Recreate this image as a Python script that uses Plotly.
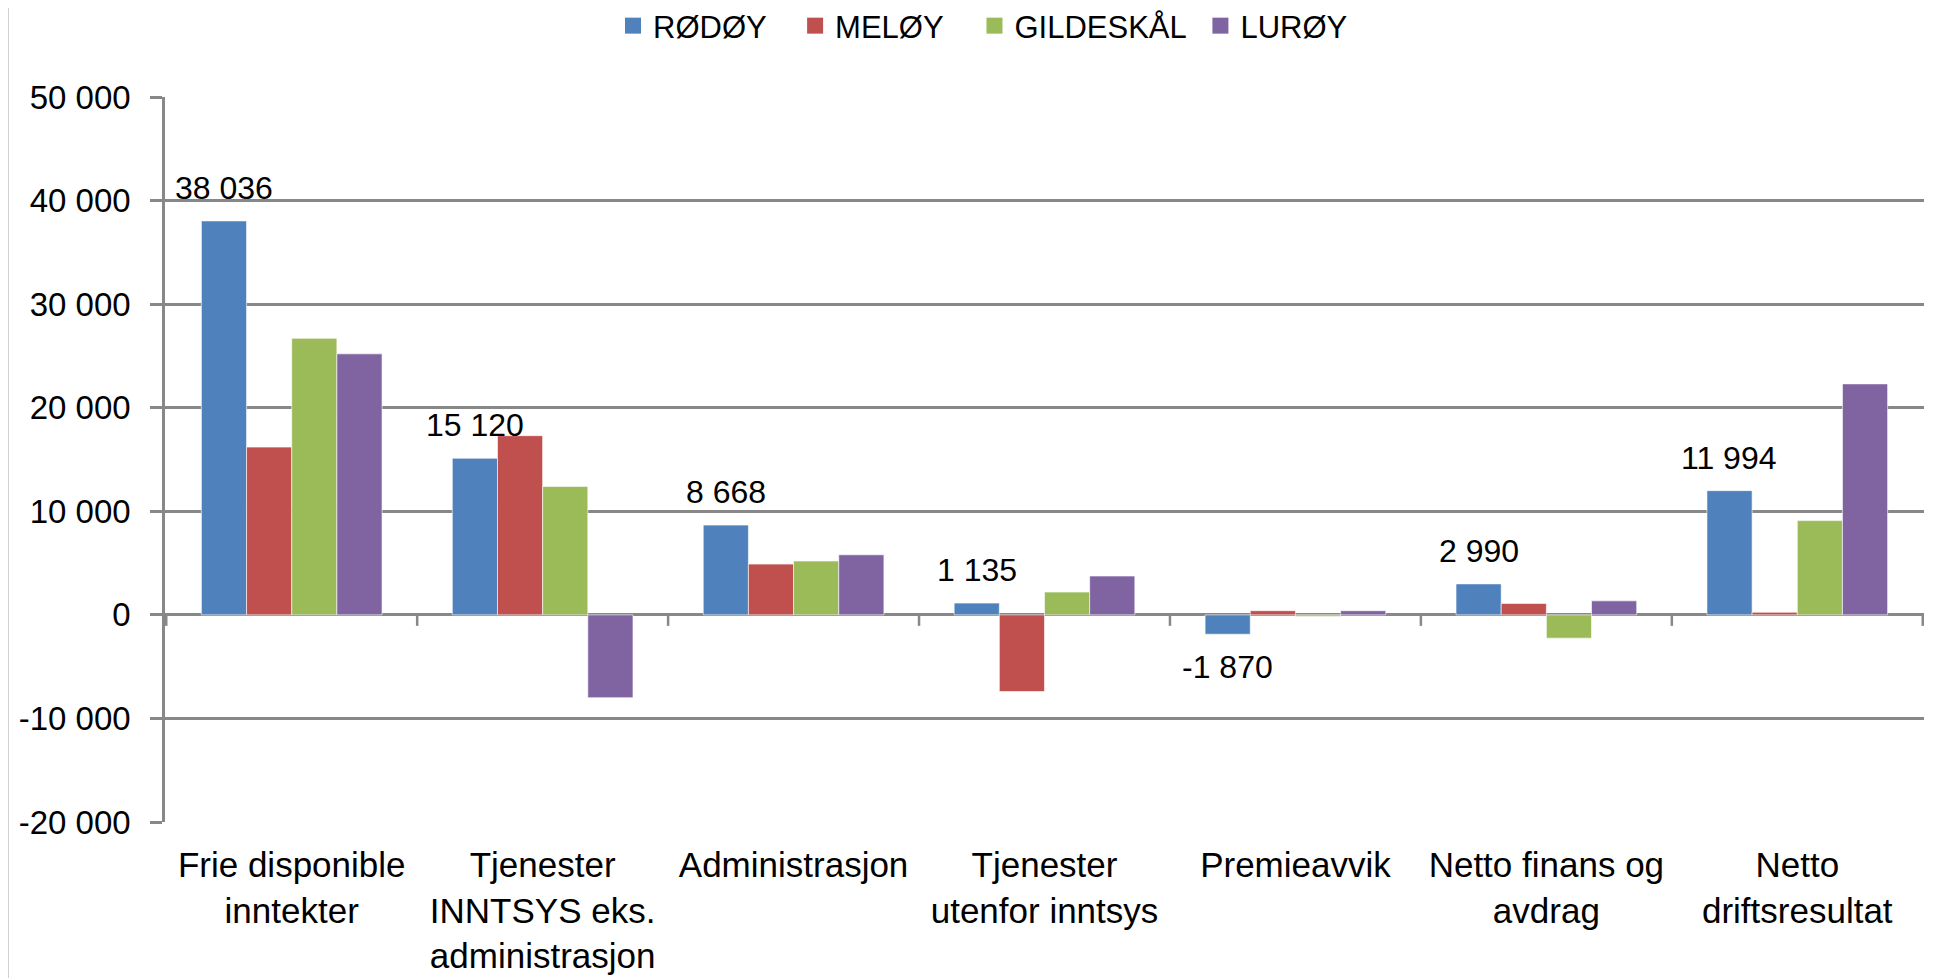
import plotly.graph_objects as go

# data
categories = ["Frie disponible<br>inntekter", "Tjenester<br>INNTSYS eks.<br>administrasjon",
              "Administrasjon", "Tjenester<br>utenfor inntsys", "Premieavvik",
              "Netto finans og<br>avdrag", "Netto<br>driftsresultat"]
rodoy = [38036, 15120, 8668, 1135, -1870, 2990, 11994]
meloy = [16200, 17300, 4900, -7400, 400, 1100, 250]
gildeskal = [26700, 12400, 5200, 2200, -150, -2250, 9100]
luroy = [25200, -8000, 5800, 3750, 400, 1350, 22300]
series_names = ["RØDØY", "MELØY", "GILDESKÅL", "LURØY"]
y_ticks = [-20000, -10000, 0, 10000, 20000, 30000, 40000, 50000]
y_tick_labels = ["-20 000", "-10 000", "0", "10 000", "20 000", "30 000", "40 000", "50 000"]

colors = ["#4F81BD", "#C0504D", "#9BBB59", "#8064A2"]
font = "Liberation Sans"
# page has an 8px body margin, so the figure is a bit smaller than the window
W, H = 1933, 970
L, R, T, B = 157, 17, 89, 156
grid = "#888888"

fig = go.Figure()
for name, vals, c in zip(series_names, [rodoy, meloy, gildeskal, luroy], colors):
    fig.add_trace(go.Bar(x=categories, y=vals, name=name, showlegend=False,
                         marker=dict(color=c, line=dict(color="rgba(255,255,255,0.6)", width=1))))
# legend entries with big square swatches (space padding for gaps between entries)
pads = ["\u00a0\u00a0\u2009", "\u00a0\u00a0\u00a0", "\u00a0", ""]
for name, c, pad in zip(series_names, colors, pads):
    fig.add_trace(go.Scatter(x=[None], y=[None], mode="markers", name=name + pad,
                             marker=dict(symbol="square", size=21, color=c)))

def fmt(v):
    return f"{v:,}".replace(",", " ")

bar_w = (W - L - R) / len(categories) * 0.72 / 4
for cat, v in zip(categories, rodoy):
    fig.add_annotation(x=cat, y=v, text=fmt(v), showarrow=False,
                       xshift=-1.5 * bar_w, yshift=33 if v >= 0 else -33,
                       font=dict(family=font, size=32, color="black"))

# category tick marks on the zero line
for i in range(len(categories) + 1):
    fig.add_shape(type="line", xref="x", yref="y", x0=i - 0.5, x1=i - 0.5,
                  ysizemode="pixel", yanchor=0, y0=0, y1=-11,
                  line=dict(color=grid, width=2.5))

# chart frame line on the left
fig.add_shape(type="line", xref="paper", yref="paper", x0=-L / (W - L - R), x1=-L / (W - L - R),
              y0=-B / (H - T - B), y1=(H - T) / (H - T - B), line=dict(color="#D0D0D0", width=2))

fig.update_layout(
    width=W, height=H,
    margin=dict(l=L, r=R, t=T, b=B, autoexpand=False),
    paper_bgcolor="white", plot_bgcolor="white",
    barmode="group", bargap=0.28, bargroupgap=0,
    font=dict(family=font, size=30, color="black"),
    legend=dict(orientation="h", xref="container", x=605 / W, xanchor="left",
                yref="container", y=1 - 18 / H, yanchor="middle",
                font=dict(size=31), itemwidth=30, traceorder="normal",
                itemsizing="trace"),
    showlegend=True,
)

fig.update_yaxes(range=[-20000, 50000], tickvals=y_ticks, ticktext=y_tick_labels,
                 showgrid=True, gridcolor=grid, gridwidth=2.5,
                 zeroline=True, zerolinecolor=grid, zerolinewidth=2.5,
                 showline=True, linecolor=grid, linewidth=2.5,
                 ticks="outside", ticklen=12, tickcolor=grid, tickwidth=2.5,
                 tickfont=dict(size=33), ticklabelstandoff=13, automargin=False,
                 fixedrange=True)
fig.update_xaxes(showgrid=False, showline=False, ticks="", tickfont=dict(size=35),
                 ticklabelstandoff=19, automargin=False)

fig.write_html("out.html")
